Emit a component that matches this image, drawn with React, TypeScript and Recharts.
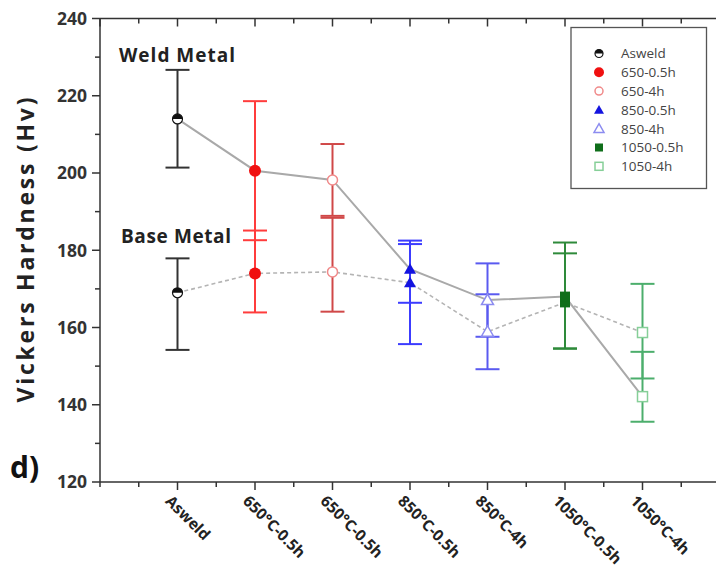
import React from 'react';
import { ComposedChart, Line, Scatter, ErrorBar, XAxis, YAxis } from 'recharts';

// heat treatment conditions along the x axis
const categories = ['Asweld', '650°C-0.5h', '650°C-0.5h', '850°C-0.5h', '850°C-4h', '1050°C-0.5h', '1050°C-4h'];
const legendNames = ['Asweld', '650-0.5h', '650-4h', '850-0.5h', '850-4h', '1050-0.5h', '1050-4h'];

// hardness (Hv)
const weldHv = [214, 200.6, 198.2, 175.1, 167.1, 168, 142.1];
const baseHv = [169, 174, 174.4, 171.6, 158.9, 166.5, 158.7];

// error bars as [minus, plus]
const weldErr = [[12.6, 12.7], [18, 18], [9.3, 9.3], [8.7, 7.4], [9.5, 9.5], [13.4, 11.2], [6.5, 11.6]];
const baseErr = [[14.8, 8.9], [10.1, 11.1], [10.3, 14], [15.9, 10], [9.7, 9.7], [12, 15.5], [11.9, 12.6]];

const yTicks = [120, 130, 140, 150, 160, 170, 180, 190, 200, 210, 220, 230, 240];
const xTicks = [-1, -0.5, 0, 0.5, 1, 1.5, 2, 2.5, 3, 3.5, 4, 4.5, 5, 5.5, 6, 6.5, 7];

const styles = [
  { kind: 'half', color: '#111111', bar: '#333333' },
  { kind: 'circle', color: '#f01010', bar: '#ff3c3c' },
  { kind: 'ocircle', color: '#f08a8a', bar: '#d04848' },
  { kind: 'tri', color: '#1414e0', bar: '#3c3cff' },
  { kind: 'otri', color: '#8c8cf0', bar: '#5a5af0' },
  { kind: 'sq', color: '#0f6e1a', bar: '#2e8a3a' },
  { kind: 'osq', color: '#86cf98', bar: '#4cae6c' },
];

const FONT = '"Open Sans", "Liberation Sans", Arial, sans-serif';

const Marker = ({ kind, cx, cy, color, r = 6 }: any) => {
  switch (kind) {
    case 'half':
      return (
        <g>
          <circle cx={cx} cy={cy} r={r - 1} fill="#fff" stroke={color} strokeWidth={1.2} />
          <path d={`M${cx - r + 1},${cy} A${r - 1},${r - 1} 0 0 1 ${cx + r - 1},${cy} Z`} fill={color} />
        </g>
      );
    case 'circle':
      return <circle cx={cx} cy={cy} r={r} fill={color} />;
    case 'ocircle':
      return <circle cx={cx} cy={cy} r={r - 1} fill="#fff" stroke={color} strokeWidth={1.5} />;
    case 'tri':
      return <polygon points={`${cx},${cy - r} ${cx + r},${cy + r * 0.75} ${cx - r},${cy + r * 0.75}`} fill={color} />;
    case 'otri':
      return (
        <polygon
          points={`${cx},${cy - r} ${cx + r},${cy + r * 0.75} ${cx - r},${cy + r * 0.75}`}
          fill="#fff"
          stroke={color}
          strokeWidth={1.5}
        />
      );
    case 'sq':
      return <rect x={cx - r + 1} y={cy - r + 1} width={2 * r - 2} height={2 * r - 2} fill={color} />;
    default:
      return (
        <rect x={cx - r + 1} y={cy - r + 1} width={2 * r - 2} height={2 * r - 2} fill="#fff" stroke={color} strokeWidth={1.5} />
      );
  }
};

const BottomTick = ({ x, y, payload }: any) => {
  const v = payload.value;
  const major = Number.isInteger(v) && v >= 0 && v <= 6;
  return (
    <g>
      <line x1={x} y1={y} x2={x} y2={y + (major ? 8 : 5)} stroke="#333" strokeWidth={1.5} />
      {major && (
        <text
          x={x - 13}
          y={y + 20}
          transform={`rotate(45 ${x - 13} ${y + 20})`}
          fontFamily={FONT}
          fontWeight="bold"
          fontSize={15.5}
          fill="#222"
        >
          {categories[v]}
        </text>
      )}
    </g>
  );
};

const TopTick = ({ x, y, payload }: any) => {
  const major = Number.isInteger(payload.value);
  return <line x1={x} y1={y} x2={x} y2={y + (major ? 8 : 5)} stroke="#333" strokeWidth={1.5} />;
};

const LeftTick = ({ x, y, payload }: any) => {
  const major = payload.value % 20 === 0;
  return (
    <g>
      <line x1={x - (major ? 8 : 5)} y1={y} x2={x} y2={y} stroke="#333" strokeWidth={1.5} />
      {major && (
        <text x={x - 13} y={y} dy="0.36em" textAnchor="end" fontFamily={FONT} fontWeight="bold" fontSize={17.5} fill="#333">
          {payload.value}
        </text>
      )}
    </g>
  );
};

const RightTick = ({ x, y, payload }: any) => {
  const major = payload.value % 20 === 0;
  return <line x1={x} y1={y} x2={x - (major ? 8 : 5)} y2={y} stroke="#333" strokeWidth={1.5} />;
};

export default function App() {
  const lineData = categories.map((c, i) => ({ x: i, weld: weldHv[i], base: baseHv[i] }));

  return (
    <div style={{ position: 'fixed', left: 0, top: 0, width: 716, height: 572, overflow: 'hidden', background: '#fff' }}>
      <ComposedChart width={740} height={572} data={lineData} margin={{ top: 10.5, right: 12, bottom: 60, left: 60 }}>
        <XAxis
          dataKey="x"
          type="number"
          domain={[-1, 7]}
          ticks={xTicks}
          height={30}
          tickSize={0}
          tickMargin={0}
          tickLine={false}
          tick={<BottomTick />}
          stroke="#333"
          strokeWidth={1.5}
          interval={0}
          allowDataOverflow
        />
        <XAxis
          xAxisId="top"
          orientation="top"
          dataKey="x"
          type="number"
          domain={[-1, 7]}
          ticks={xTicks}
          height={8}
          tickSize={0}
          tickMargin={0}
          tickLine={false}
          tick={<TopTick />}
          stroke="#333"
          strokeWidth={1.5}
          interval={0}
        />
        <YAxis
          type="number"
          domain={[120, 240]}
          ticks={yTicks}
          width={40}
          tickSize={0}
          tickMargin={0}
          tickLine={false}
          tick={<LeftTick />}
          stroke="#333"
          strokeWidth={1.5}
          interval={0}
          allowDataOverflow
        />
        <YAxis
          yAxisId="right"
          orientation="right"
          type="number"
          domain={[120, 240]}
          ticks={yTicks}
          width={8}
          tickSize={0}
          tickMargin={0}
          tickLine={false}
          tick={<RightTick />}
          stroke="#333"
          strokeWidth={1.5}
          interval={0}
        />
        <Line dataKey="weld" stroke="#a9a9a9" strokeWidth={2} dot={false} isAnimationActive={false} />
        <Line dataKey="base" stroke="#b4b4b4" strokeWidth={1.6} strokeDasharray="4 3" dot={false} isAnimationActive={false} />
        {categories.map((c, i) => (
          <Scatter
            key={i}
            data={[
              { x: i, y: baseHv[i], err: baseErr[i] },
              { x: i, y: weldHv[i], err: weldErr[i] },
            ]}
            dataKey="y"
            isAnimationActive={false}
            shape={(p: any) => <Marker kind={styles[i].kind} cx={p.cx} cy={p.cy} color={styles[i].color} />}
          >
            <ErrorBar dataKey="err" direction="y" width={12} stroke={styles[i].bar} strokeWidth={2} />
          </Scatter>
        ))}
      </ComposedChart>

      <svg width={716} height={572} style={{ position: 'absolute', left: 0, top: 0, pointerEvents: 'none' }}>
        <text x={119} y={62} fontFamily={FONT} fontWeight="bold" fontSize={19} textLength={116} fill="#222">
          Weld Metal
        </text>
        <text x={121} y={243} fontFamily={FONT} fontWeight="bold" fontSize={19} textLength={110} fill="#222">
          Base Metal
        </text>
        <text x={10} y={478} fontFamily={FONT} fontWeight="bold" fontSize={30} fill="#111">
          d)
        </text>
        <text
          x={0}
          y={0}
          transform="translate(34 250) rotate(-90)"
          textAnchor="middle"
          fontFamily={FONT}
          fontWeight="bold"
          fontSize={23}
          textLength={305}
          fill="#222"
        >
          Vickers Hardness (Hv)
        </text>

        <rect x={571} y={27.5} width={135.5} height={161} fill="#fff" stroke="#555" strokeWidth={1.3} />
        {legendNames.map((n, i) => (
          <g key={n}>
            <Marker kind={styles[i].kind} cx={599} cy={53.5 + i * 18.8} color={styles[i].color} r={5} />
            <text x={621} y={53.5 + i * 18.8} dy="0.36em" fontFamily={FONT} fontSize={13.5} fill="#444">
              {n}
            </text>
          </g>
        ))}
      </svg>
    </div>
  );
}
